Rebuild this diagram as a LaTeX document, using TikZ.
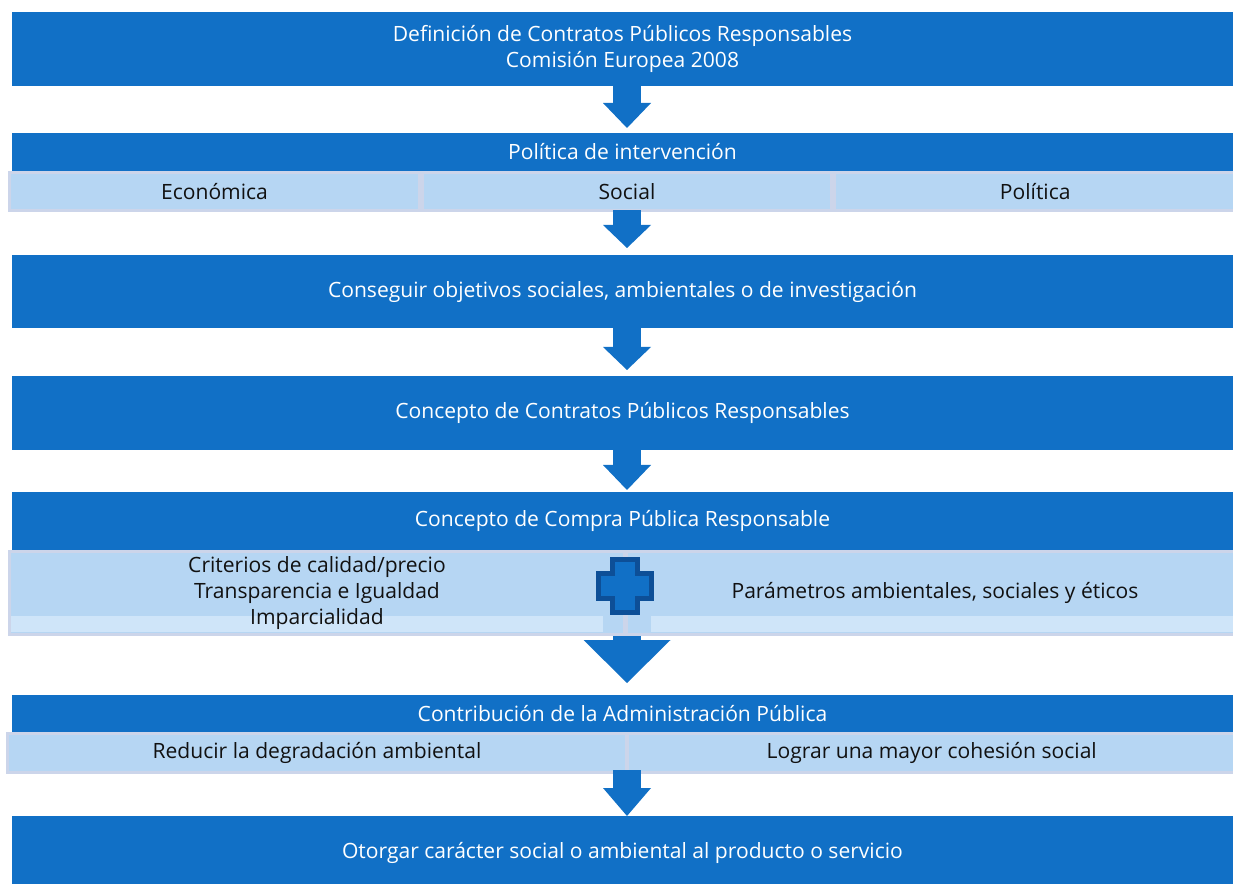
\documentclass[tikz,border=0pt]{standalone}
\usepackage{fontspec}
\setmainfont{Open Sans}
\usetikzlibrary{arrows.meta,calc}
\definecolor{dblue}{HTML}{1170C6}
\definecolor{lblue}{HTML}{B6D6F3}
\definecolor{lbord}{HTML}{CCD5EA}
\definecolor{lstrip}{HTML}{CFE5F9}
\definecolor{xblue}{HTML}{0D4F97}
\definecolor{txt}{HTML}{111111}
\newdimen\px \px=0.75pt
\begin{document}
\begin{tikzpicture}[x=0.75pt,y=-0.75pt,
  lbl/.style={font=\fontsize{15.8}{19.8}\selectfont},
  hdr/.style={lbl, fill=dblue, text=white, inner sep=0pt, outer sep=0pt,
    minimum width=1221\px, align=center},
  sub/.style={lbl, fill=lblue, draw=lbord, line width=3\px, inner sep=0pt,
    outer sep=0pt, align=center, text=txt},
  plain/.style={lbl, text=txt, inner sep=0pt, align=center},
  barrow/.style={draw=dblue, line width=21pt, line cap=butt,
    -{Triangle[width=36pt 0, length=#1 0, line width=0pt]}},
  bigarrow/.style={draw=dblue, line width=21pt, line cap=butt,
    -{Triangle[width=65.25pt 0, length=32.25pt 0, line width=0pt]}}
]
\useasboundingbox (0,0) rectangle (1233,884);
\coordinate (col) at (627,0);

% boxes
\node[hdr, minimum height=74\px] (b1) at (622.5,49)
  {\raisebox{-1.5\px}{\shortstack{Definición de Contratos Públicos Responsables\\Comisión Europea 2008}}};
\node[hdr, minimum height=38\px] (b2) at (622.5,152) {Política de intervención};
\node[sub, minimum width=410\px, minimum height=38\px] (s2a) at (214.5,191.5) {Económica};
\node[sub, minimum width=409\px, minimum height=38\px] (s2b) at (627,191.5) {Social};
\node[sub, minimum width=401.5\px, minimum height=38\px] (s2c) at (1035.25,191.5) {Política};

\node[hdr, minimum height=73\px] (b3) at (622.5,291.5)
  {\raisebox{-2\px}{Conseguir objetivos sociales, ambientales o de investigación}};
\node[hdr, minimum height=74\px] (b4) at (622.5,413)
  {\raisebox{-2\px}{Concepto de Contratos Públicos Responsables}};
\node[hdr, minimum height=58\px] (b5) at (622.5,521)
  {\raisebox{-3\px}{Concepto de Compra Pública Responsable}};

% big arrow (below the sub boxes)
\coordinate (a5s) at (627,628);
\node[hdr, minimum height=38\px] (b6) at (622.5,714) {Contribución de la Administración Pública};
\draw[bigarrow] (a5s) -- ([yshift=9pt]b6.north -| col);

\node[sub, minimum width=615\px, minimum height=83\px,
  path picture={\fill[lstrip] ([yshift=2.25pt]path picture bounding box.south west)
     rectangle ([xshift=-16.5pt,yshift=14.25pt]path picture bounding box.south east);}]
  (s5a) at (317,593) {Criterios de calidad/precio\\Transparencia e Igualdad\\Imparcialidad};
\node[sub, minimum width=609.5\px, minimum height=83\px,
  path picture={\fill[lstrip] ([xshift=18pt,yshift=2.25pt]path picture bounding box.south west)
     rectangle ([yshift=14.25pt]path picture bounding box.south east);}]
  (s5b) at (931.25,593) {};
\node[plain] (s5t) at (935,593) {Parámetros ambientales, sociales y éticos};

% cross
\coordinate (cx) at (625,586);
\draw[fill=dblue, draw=xblue, line width=5\px]
  ($(cx)+(-12.5,-26.5)$) -- ($(cx)+(12.5,-26.5)$) -- ($(cx)+(12.5,-12.5)$) --
  ($(cx)+(26.5,-12.5)$) -- ($(cx)+(26.5,12.5)$) -- ($(cx)+(12.5,12.5)$) --
  ($(cx)+(12.5,26.5)$) -- ($(cx)+(-12.5,26.5)$) -- ($(cx)+(-12.5,12.5)$) --
  ($(cx)+(-26.5,12.5)$) -- ($(cx)+(-26.5,-12.5)$) -- ($(cx)+(-12.5,-12.5)$) -- cycle;

\node[sub, minimum width=619\px, minimum height=39\px] (s6a) at (317,753) {Reducir la degradación ambiental};
\node[sub, minimum width=608.5\px, minimum height=39\px] (s6b) at (931.75,753) {Lograr una mayor cohesión social};

\node[hdr, minimum height=74\px] (b7) at (622.5,853)
  {\raisebox{-2\px}{Otorgar carácter social o ambiental al producto o servicio}};

% arrows
\draw[barrow=18.75pt] (b1.south -| col) -- ([yshift=3.75pt]b2.north -| col);
\draw[barrow=17.25pt] (s2b.south -| col) -- ([yshift=5.25pt]b3.north -| col);
\draw[barrow=17.25pt] (b3.south -| col) -- ([yshift=4.5pt]b4.north -| col);
\draw[barrow=18.75pt] (b4.south -| col) -- ([yshift=1.5pt]b5.north -| col);
\coordinate (a6s) at (627,770);
\draw[barrow=21pt] (a6s) -- (b7.north -| col);
\end{tikzpicture}
\end{document}
